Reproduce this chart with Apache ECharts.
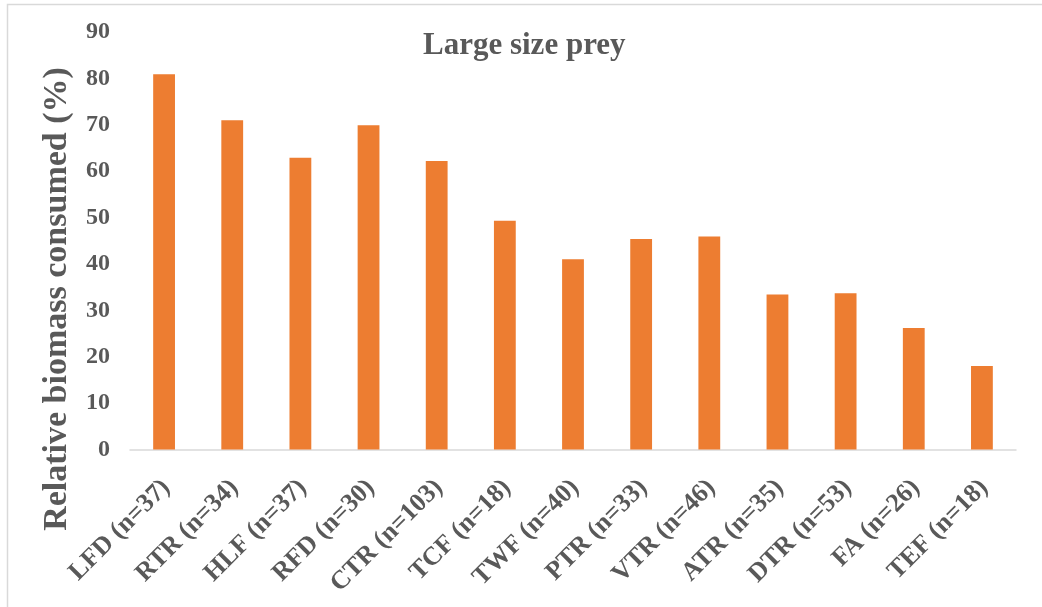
<!DOCTYPE html>
<html>
<head>
<meta charset="utf-8">
<style>
  html, body { margin: 0; padding: 0; background: #ffffff; }
  #chart { width: 1042px; height: 607px; }
</style>
<script src="https://cdn.jsdelivr.net/npm/echarts@6/dist/echarts.min.js"></script>
</head>
<body>
<div id="chart"></div>
<script>
// Predator groups (with sample sizes) and the share of large prey biomass they consumed
const categories = [
  'LFD (n=37)', 'RTR (n=34)', 'HLF (n=37)', 'RFD (n=30)', 'CTR (n=103)',
  'TCF (n=18)', 'TWF (n=40)', 'PTR (n=33)', 'VTR (n=46)', 'ATR (n=35)',
  'DTR (n=53)', 'FA (n=26)', 'TEF (n=18)'
];
const biomassConsumed = [80.9, 71.0, 62.9, 69.9, 62.2, 49.3, 41.0, 45.4, 45.9, 33.4, 33.7, 26.2, 18.0];
const yTicks = [0, 10, 20, 30, 40, 50, 60, 70, 80, 90];

const titleText = 'Large size prey';
const yAxisTitle = 'Relative biomass consumed (%)';

const serif = '"Liberation Serif", "Times New Roman", serif';
const textGray = '#595959';

const chart = echarts.init(document.getElementById('chart'), null, { renderer: 'canvas' });

chart.setOption({
  backgroundColor: '#ffffff',
  animation: false,
  title: {
    text: titleText,
    left: 418,
    top: 25,
    textStyle: { fontFamily: serif, fontWeight: 'bold', fontSize: 31, color: textGray }
  },
  grid: { left: 130, right: 26, top: 32, bottom: 157.5 },
  xAxis: {
    type: 'category',
    data: categories,
    axisLine: { show: true, lineStyle: { color: '#d9d9d9', width: 1.5 } },
    axisTick: { show: false },
    axisLabel: {
      interval: 0,
      rotate: 45,
      margin: 18,
      verticalAlign: 'top',
      padding: [0, 10, 0, 0],
      fontFamily: serif,
      fontWeight: 'bold',
      fontSize: 26,
      color: textGray
    }
  },
  yAxis: {
    type: 'value',
    min: yTicks[0],
    max: yTicks[yTicks.length - 1],
    interval: 10,
    axisLine: { show: false },
    axisTick: { show: false },
    splitLine: { show: false },
    axisLabel: {
      margin: 20,
      fontFamily: serif,
      fontWeight: 'bold',
      fontSize: 24,
      color: textGray
    }
  },
  series: [{
    type: 'bar',
    data: biomassConsumed,
    barWidth: '32%',
    itemStyle: { color: '#ed7d31' }
  }],
  graphic: [
    {
      type: 'rect',
      silent: true,
      shape: { x: 7.5, y: 4.5, width: 1200, height: 800 },
      style: { fill: 'none', stroke: '#d9d9d9', lineWidth: 1.5 }
    },
    {
      type: 'text',
      silent: true,
      x: 57,
      y: 299,
      rotation: Math.PI / 2,
      style: {
        text: yAxisTitle,
        fontFamily: serif,
        fontWeight: 'bold',
        fontSize: 34,
        fill: textGray,
        align: 'center',
        verticalAlign: 'middle'
      }
    }
  ]
});
</script>
</body>
</html>
